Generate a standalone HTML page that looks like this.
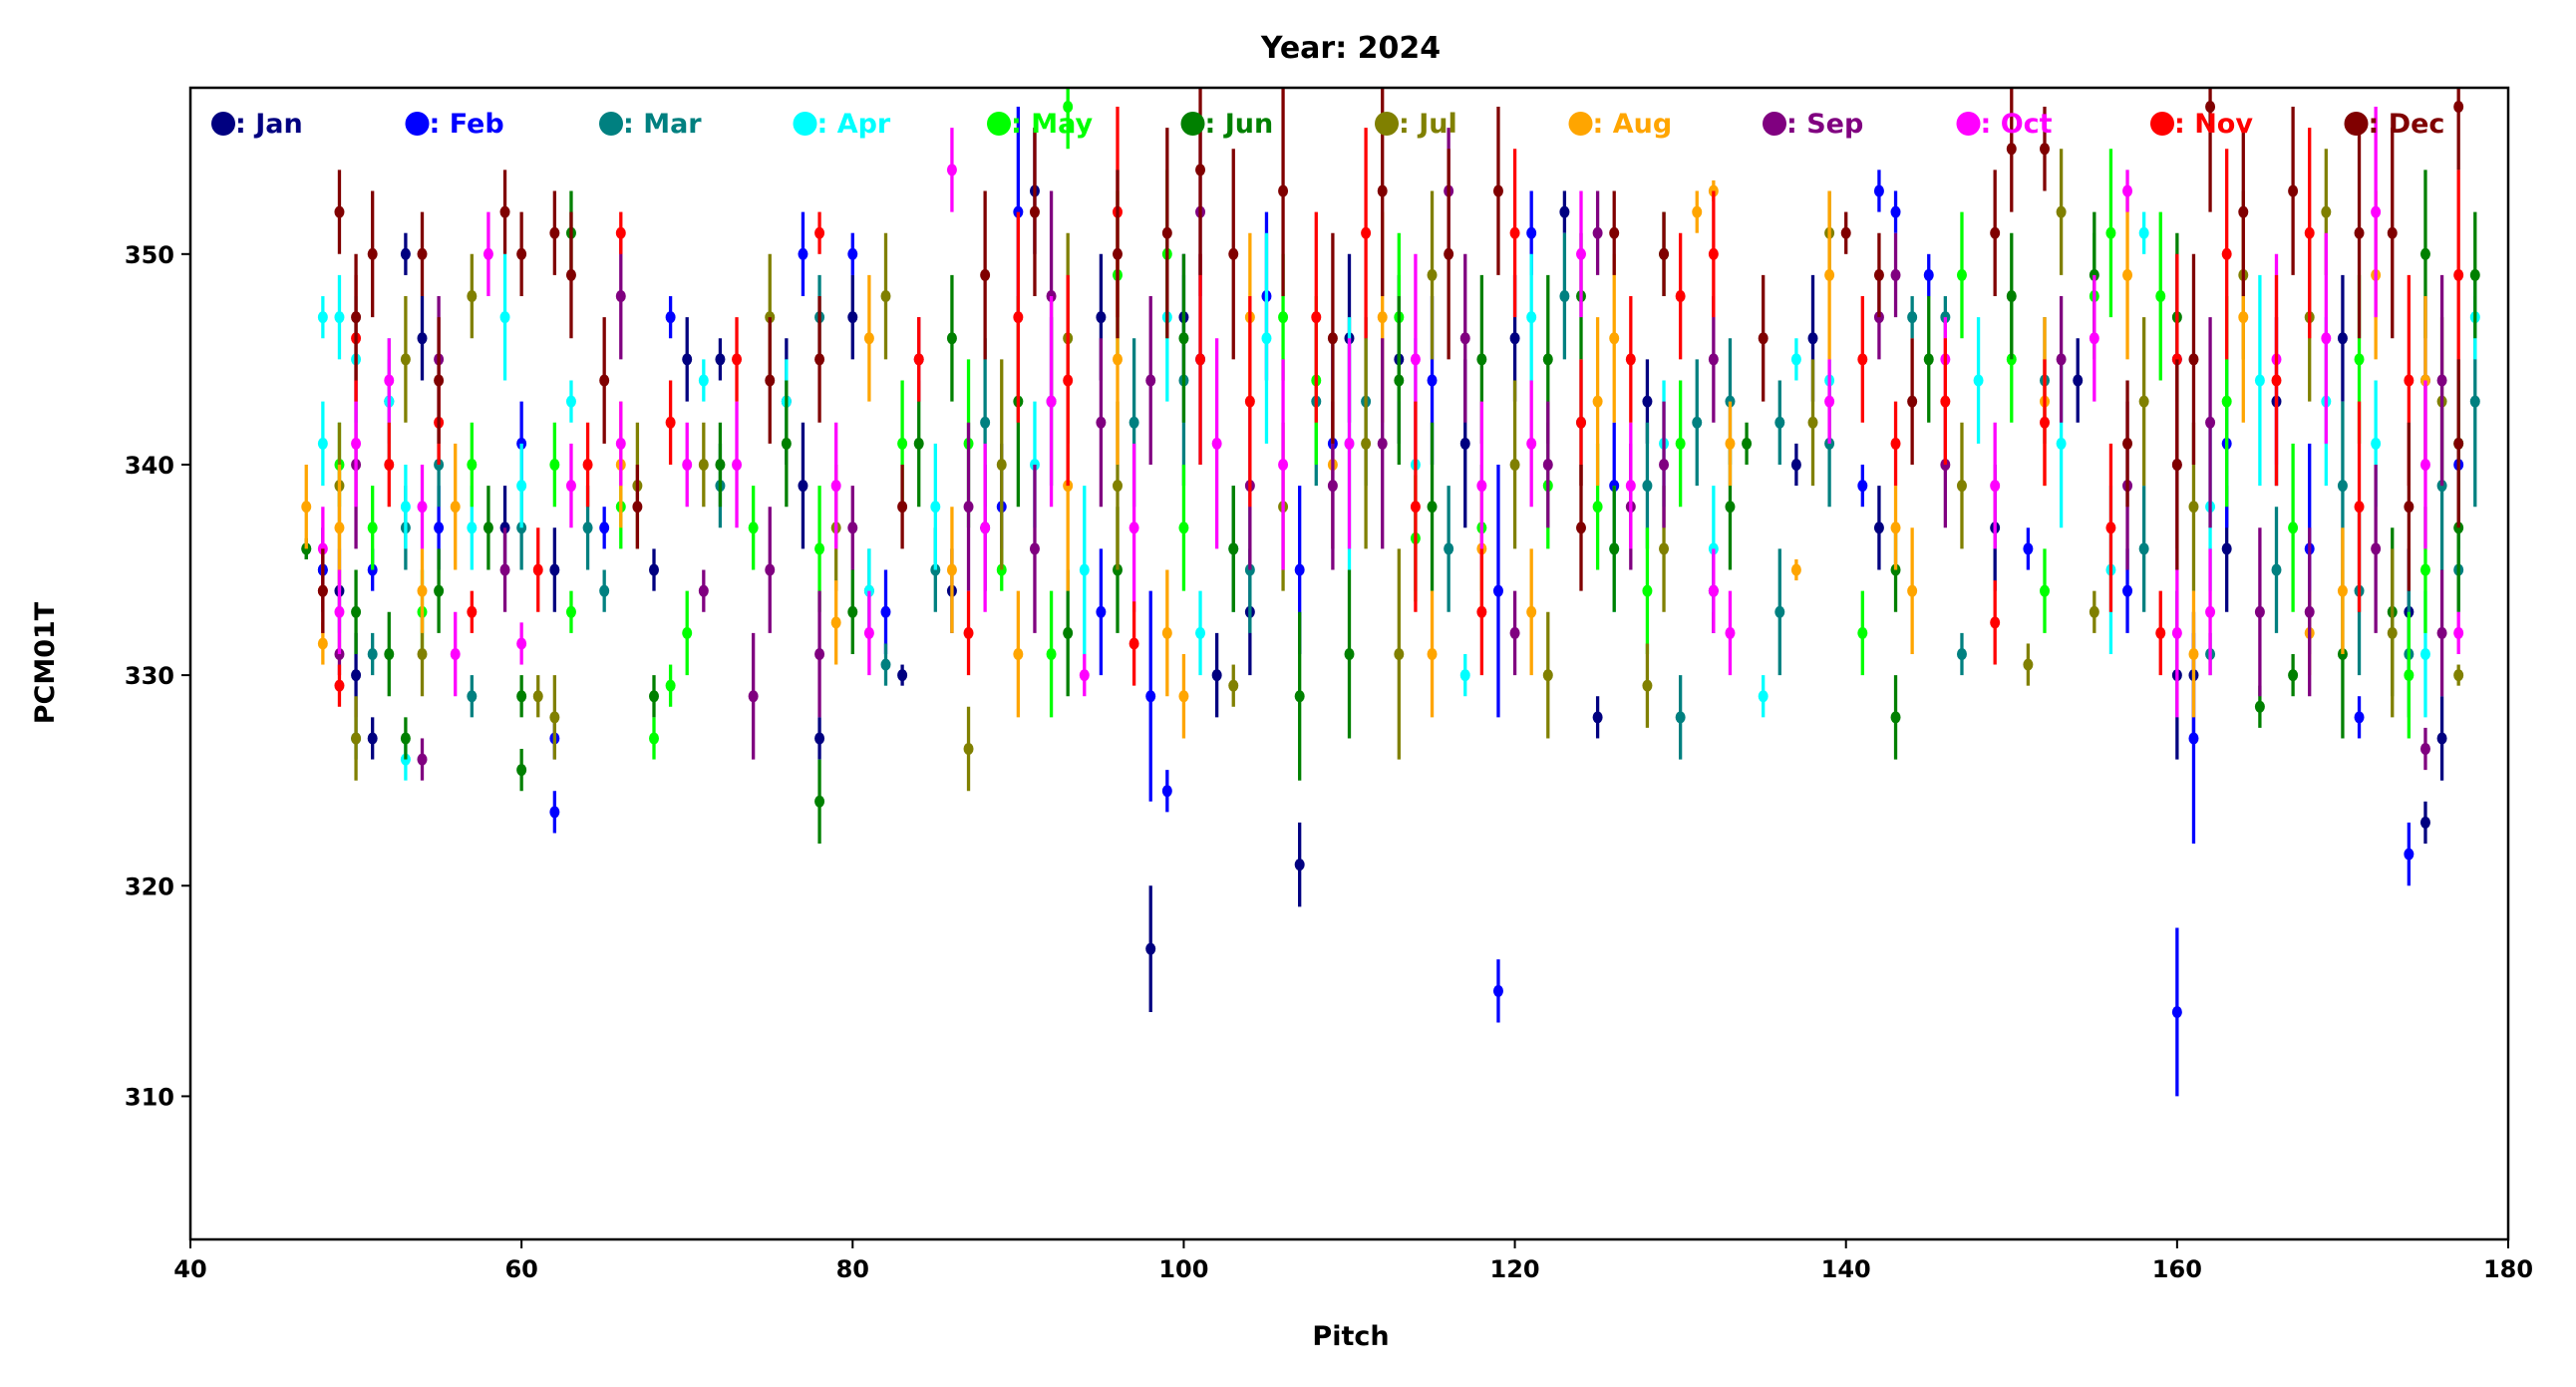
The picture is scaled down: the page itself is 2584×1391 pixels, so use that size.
<!DOCTYPE html>
<html><head><meta charset="utf-8"><style>
html,body{margin:0;padding:0;background:#fff;}
svg{display:block;font-family:"DejaVu Sans","Liberation Sans",sans-serif;font-weight:bold;}
</style></head><body>
<svg id="chart" width="2584" height="1391" viewBox="0 0 2584 1391" xmlns="http://www.w3.org/2000/svg">
<defs><clipPath id="clip"><rect x="191" y="88" width="2325" height="1155"/></clipPath></defs>
<text x="1355" y="58" text-anchor="middle" font-size="30">Year: 2024</text>
<g id="marks" clip-path="url(#clip)"></g>
<g id="axes"></g>
<g id="legend"></g>
<text x="1355" y="1349" text-anchor="middle" font-size="27">Pitch</text>
<text transform="translate(54,665) rotate(-90)" text-anchor="middle" font-size="27">PCM01T</text>
</svg>
<script>
const months = ["Jan","Feb","Mar","Apr","May","Jun","Jul","Aug","Sep","Oct","Nov","Dec"];
const monthColors = ["#000080","#0000ff","#008080","#00ffff","#00ff00","#008000","#808000","#ffa500","#800080","#ff00ff","#ff0000","#800000"];
const xTicks = [40,60,80,100,120,140,160,180];
const yTicks = [310,320,330,340,350];
const janData = [[48,335,2],[49,334,2],[50,330,2],[51,327,1],[53,350,1],[54,346,2],[59,337,2],[62,335,2],[68,335,1],[70,345,2],[72,345,1],[76,343,3],[77,339,3],[78,327,1],[80,347,2],[83,330,0.5],[86,334,2],[88,337,3],[91,353,3],[95,347,3],[98,317,3],[100,347,3],[102,330,2],[104,333,3],[107,321,2],[110,346,4],[113,345,4],[117,341,4],[120,346,3],[123,352,1],[125,328,1],[128,343,2],[132,334,2],[137,340,1],[138,346,3],[142,337,2],[149,337,3],[154,344,2],[160,330,4],[161,330,3],[163,336,3],[166,343,4],[170,346,3],[174,333,3],[175,323,1],[176,327,2]];
const febData = [[48,335,1],[51,335,1],[52,343,2],[55,337,2],[60,341,2],[62,323.5,1],[62,327,1],[65,337,1],[69,347,1],[77,350,2],[80,350,1],[82,333,2],[89,338,3],[90,352,5],[95,333,3],[98,329,5],[99,324.5,1],[101,345,5],[105,348,4],[107,335,4],[109,341,5],[115,344,4],[119,315,1.5],[119,334,6],[121,351,2],[126,339,3],[142,353,1],[141,339,1],[143,352,1],[145,349,1],[151,336,1],[157,334,2],[160,314,4],[160,345,5],[161,327,5],[163,341,4],[168,336,5],[171,328,1],[174,321.5,1.5],[175,344,4],[177,340,4]];
const marData = [[47,336,0.5],[50,327,1],[51,331,1],[53,337,2],[55,340,2],[57,329,1],[60,337,2],[64,337,2],[65,334,1],[72,339,2],[78,347,2],[81,334,2],[82,330.5,1],[85,335,2],[88,342,4],[92,343,4],[97,342,4],[100,344,5],[103,336,3],[104,335,3],[108,343,4],[111,343,4],[116,336,3],[123,348,3],[124,342,3],[128,339,3],[130,328,2],[131,342,3],[133,343,3],[136,342,2],[136,333,3],[139,341,3],[144,347,1],[146,347,1],[147,331,1],[152,344,3],[158,336,3],[162,331,1],[166,335,3],[170,339,4],[171,334,4],[174,331,3],[176,339,4],[177,335,2],[178,343,5]];
const aprData = [[48,347,1],[48,341,2],[49,347,2],[50,345,3],[52,343,3],[53,326,1],[53,338,2],[57,337,2],[59,347,3],[60,339,2],[63,343,1],[71,344,1],[76,343,2],[81,334,2],[85,338,3],[91,340,3],[94,335,4],[99,347,4],[101,332,2],[105,346,5],[110,341,6],[114,340,6],[117,330,1],[121,347,3],[126,336,3],[129,341,3],[132,336,3],[135,329,1],[137,345,1],[139,344,1],[148,344,3],[153,341,4],[156,335,4],[158,351,1],[162,338,4],[165,344,5],[169,343,4],[172,341,3],[175,331,3],[178,347,2]];
const mayData = [[49,340,2],[51,337,2],[54,333,2],[57,340,2],[62,340,2],[63,333,1],[66,338,2],[68,327,1],[69,329.5,1],[70,332,2],[74,337,2],[78,336,3],[83,341,3],[87,341,4],[89,335,1],[92,331,3],[93,357,2],[96,349,4],[99,350,4],[100,337,3],[106,347,3],[108,344,4],[113,347,4],[114,336.5,3],[118,337,3],[122,339,3],[125,338,3],[128,334,3],[130,341,3],[141,332,2],[147,349,3],[150,345,3],[152,334,2],[155,348,3],[156,351,4],[159,348,4],[163,343,5],[167,337,4],[171,345,4],[174,330,3],[175,335,3],[177,341,3]];
const junData = [[47,336,0.5],[50,333,2],[52,331,2],[53,327,1],[55,334,2],[58,337,2],[60,325.5,1],[60,329,1],[63,351,2],[68,329,1],[72,340,2],[76,341,3],[78,324,2],[80,333,2],[84,341,3],[86,346,3],[90,343,5],[93,332,3],[96,335,3],[100,346,4],[103,336,3],[107,329,4],[110,331,4],[113,344,4],[115,338,4],[118,345,4],[122,345,4],[124,348,3],[126,336,3],[129,350,2],[133,338,3],[134,341,1],[143,328,2],[143,335,2],[145,345,3],[150,348,3],[155,349,3],[160,347,4],[165,328.5,1],[167,330,1],[170,331,4],[173,333,4],[175,350,4],[177,337,4],[178,349,3]];
const julData = [[49,339,3],[50,327,2],[53,345,3],[54,331,2],[57,348,2],[61,329,1],[62,328,2],[67,339,3],[71,340,2],[75,347,3],[79,337,3],[82,348,3],[87,326.5,2],[89,340,5],[93,346,5],[96,339,4],[103,329.5,1],[106,338,4],[111,341,5],[113,331,5],[115,349,4],[120,340,4],[122,330,3],[128,329.5,2],[129,336,3],[138,342,3],[139,351,2],[147,339,3],[151,330.5,1],[153,352,3],[155,333,1],[158,343,4],[161,338,4],[164,349,4],[168,347,4],[169,352,3],[173,332,4],[176,343,4],[177,330,0.5]];
const augData = [[47,338,2],[48,331.5,1],[49,337,3],[54,334,2],[56,338,3],[66,340,3],[79,332.5,2],[81,346,3],[86,335,3],[90,331,3],[93,339,5],[96,345,5],[99,332,3],[100,329,2],[104,347,4],[109,340,4],[112,347,5],[115,331,3],[118,336,3],[121,333,3],[125,343,4],[126,346,4],[131,352,1],[132,353,0.5],[133,341,2],[137,335,0.5],[139,349,4],[143,337,2],[144,334,3],[152,343,4],[157,349,4],[161,331,3],[164,347,5],[168,332,2],[170,334,3],[172,349,4],[175,344,4]];
const sepData = [[49,331,1],[50,340,4],[54,326,1],[55,345,3],[59,335,2],[66,348,3],[71,334,1],[74,329,3],[75,335,3],[78,331,3],[80,337,2],[84,345,2],[87,338,4],[91,336,4],[92,348,5],[95,342,4],[98,344,4],[101,352,4],[104,339,4],[109,339,4],[112,341,5],[116,353,3],[117,346,4],[120,332,2],[122,340,3],[125,351,2],[127,338,3],[129,340,3],[132,345,3],[142,347,2],[143,349,2],[146,340,3],[153,345,3],[157,339,4],[160,340,4],[162,342,5],[165,333,4],[168,333,4],[172,336,4],[175,326.5,1],[176,344,5],[176,332,3]];
const octData = [[48,336,2],[49,333,2],[50,341,3],[52,344,2],[54,338,2],[56,331,2],[58,350,2],[60,331.5,1],[63,339,2],[66,341,2],[70,340,2],[73,340,3],[79,339,3],[81,332,2],[86,354,2],[88,337,4],[92,343,5],[94,330,1],[97,337,4],[102,341,5],[106,340,5],[110,341,5],[114,345,5],[118,339,4],[121,341,3],[124,350,3],[127,339,3],[132,334,2],[133,332,2],[139,343,2],[146,345,2],[149,339,3],[155,346,3],[157,353,1],[160,332,4],[162,333,3],[166,345,5],[169,346,5],[172,352,5],[175,340,4],[177,332,1]];
const novData = [[48,334,2],[49,329.5,1],[50,346,3],[52,340,2],[55,342,2],[57,333,1],[61,335,2],[64,340,2],[66,351,1],[69,342,2],[73,345,2],[78,351,1],[84,345,2],[87,332,2],[90,347,5],[93,344,5],[96,352,5],[97,331.5,2],[101,345,5],[104,343,5],[108,347,5],[111,351,5],[114,338,5],[118,333,3],[120,351,4],[124,342,3],[127,345,3],[130,348,3],[132,350,3],[141,345,3],[143,341,2],[146,343,3],[149,332.5,2],[152,342,3],[156,337,4],[159,332,2],[160,345,5],[163,350,5],[166,344,5],[168,351,5],[171,338,5],[174,344,5],[177,349,5]];
const decData = [[48,334,2],[49,352,2],[50,347,3],[51,350,3],[54,350,2],[55,344,3],[59,352,2],[60,350,2],[62,351,2],[63,349,3],[65,344,3],[67,338,2],[75,344,3],[78,345,3],[83,338,2],[88,349,4],[91,352,4],[96,350,4],[99,351,5],[101,354,5],[103,350,5],[106,353,5],[109,346,5],[112,353,5],[116,350,5],[119,353,4],[124,337,3],[126,351,2],[129,350,2],[135,346,3],[140,351,1],[142,349,2],[144,343,3],[149,351,3],[150,355,3],[152,355,2],[157,341,3],[160,340,5],[161,345,5],[162,357,5],[164,352,4],[167,353,4],[171,351,5],[173,351,5],[174,338,4],[177,341,4],[177,357,3]];
const allData = [janData,febData,marData,aprData,mayData,junData,julData,augData,sepData,octData,novData,decData];

const NS = "http://www.w3.org/2000/svg";
const L = 191, R = 2516, T = 88, B = 1243;
const xMin = 40, xMax = 180, yMin = 303.2, yMax = 357.9;
function xs(v){ return L + (v - xMin) / (xMax - xMin) * (R - L); }
function ys(v){ return B - (v - yMin) / (yMax - yMin) * (B - T); }
function mk(tag, attrs){ const e = document.createElementNS(NS, tag); for (const k in attrs) e.setAttribute(k, attrs[k]); return e; }

const marks = document.getElementById('marks');
allData.forEach((series, mi) => {
  const g = mk('g', {});
  
  
  series.forEach(d => {
    const x = xs(d[0]);
    const ln = mk('line', {x1:x, x2:x, y1:ys(d[1]-d[2]), y2:ys(d[1]+d[2]), stroke:monthColors[mi], 'stroke-width':3.3});
    
    
    g.appendChild(ln);
    const c = mk('ellipse', {cx:x, cy:ys(d[1]), rx:5, ry:6, fill:monthColors[mi]});
    
    
    g.appendChild(c);
  });
  marks.appendChild(g);
});

const axes = document.getElementById('axes');
const frame = mk('rect', {x:L, y:T, width:R-L, height:B-T, fill:'none', stroke:'#000', 'stroke-width':2.5});


axes.appendChild(frame);
xTicks.forEach(t => {
  const x = xs(t);
  const tk = mk('line', {x1:x, x2:x, y1:B, y2:B+9, stroke:'#000', 'stroke-width':2});
  
  
  axes.appendChild(tk);
  const tx = mk('text', {x:x, y:B+38, 'text-anchor':'middle', 'font-size':24});
  
  
  tx.textContent = t;
  axes.appendChild(tx);
});
yTicks.forEach(t => {
  const y = ys(t);
  const tk = mk('line', {x1:L-9, x2:L, y1:y, y2:y, stroke:'#000', 'stroke-width':2});
  
  
  axes.appendChild(tk);
  const tx = mk('text', {x:L-16, y:y+9, 'text-anchor':'end', 'font-size':24});
  
  
  tx.textContent = t;
  axes.appendChild(tx);
});

const legend = document.getElementById('legend');
months.forEach((m, i) => {
  const cx = 224 + i * 194.5;
  const g = mk('g', {});
  
  
  g.appendChild(mk('circle', {cx:cx, cy:124, r:12, fill:monthColors[i]}));
  const tx = mk('text', {x:cx+12, y:133, 'font-size':27, fill:monthColors[i]});
  tx.textContent = ': ' + m;
  g.appendChild(tx);
  legend.appendChild(g);
});
</script>
</body></html>
